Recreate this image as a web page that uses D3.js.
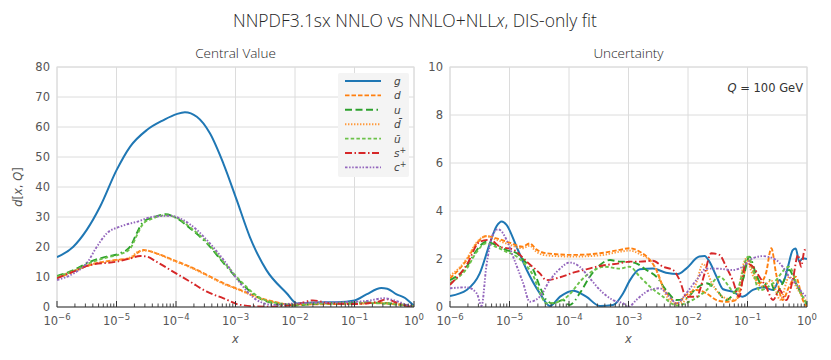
<!DOCTYPE html>
<html><head><meta charset="utf-8">
<script src="https://cdn.jsdelivr.net/npm/d3@7"></script>
<style>
body{margin:0;background:#fff;}
svg text{font-family:"DejaVu Sans",sans-serif;}
</style></head>
<body><svg id="c" width="831" height="360"></svg>
<script>
// ---------- data (x given as log10(x)) ----------
const seriesNames = ["g","d","u","dbar","ubar","splus","cplus"];
const xTickExps = [-6,-5,-4,-3,-2,-1,0];
const cvTicks = [0,10,20,30,40,50,60,70,80];
const unTicks = [0,2,4,6,8,10];

// Central value
const cv_g = [[-6,16.6],[-5.726,20.1],[-5.5,25.7],[-5.277,33.4],[-4.997,45.7],[-4.773,53.4],[-4.49,59],[-4.21,62.3],[-3.99,64.3],[-3.85,64.9],[-3.65,63.4],[-3.43,57.9],[-3.205,47.9],[-2.98,35.7],[-2.76,23.4],[-2.48,12.3],[-2.14,4.6],[-1.97,1.2],[-1.7,1.5],[-1.3,1.6],[-1.0,2.2],[-0.8,4.2],[-0.55,6.3],[-0.45,6.1],[-0.3,4.3],[-0.15,3.0],[-0.05,1.3],[0,0.4]];
const cv_d = [[-6,9.6],[-5.72,11.8],[-5.445,14],[-5.0,15.7],[-4.77,16.2],[-4.66,17.9],[-4.55,19],[-4.33,17.9],[-4.05,15.7],[-3.76,13.4],[-3.48,10.7],[-3.2,7.9],[-2.92,5.7],[-2.64,3.4],[-2.36,1.8],[-2.03,0.7],[-1.7,0.9],[-1.3,1.0],[-1.0,1.2],[-0.6,1.3],[-0.3,0.9],[0,0.1]];
const cv_u = [[-6,10.3],[-5.72,12.3],[-5.445,15.1],[-5.165,16.8],[-4.94,17.9],[-4.77,20.1],[-4.66,24.6],[-4.55,28.4],[-4.38,29.9],[-4.18,30.9],[-3.99,29.6],[-3.76,26.2],[-3.48,21.2],[-3.2,14.6],[-2.92,8.4],[-2.64,3.4],[-2.36,1.2],[-2.0,0.5],[-1.7,1.0],[-1.2,1.4],[-0.8,1.5],[-0.4,1.2],[-0.1,0.5],[0,0.1]];
const cv_dbar = [[-6,10.0],[-5.72,12.0],[-5.445,14.1],[-5.0,15.6],[-4.77,16.5],[-4.62,18.6],[-4.5,18.8],[-4.3,17.6],[-4.05,15.5],[-3.76,13.2],[-3.48,10.5],[-3.2,7.7],[-2.92,5.5],[-2.64,3.2],[-2.36,1.6],[-2.03,0.8],[-1.7,1.1],[-1.3,1.2],[-1.0,1.0],[-0.6,1.4],[-0.3,1.0],[0,0.2]];
const cv_ubar = [[-6,10.1],[-5.72,12.0],[-5.445,14.7],[-5.165,16.5],[-4.94,17.6],[-4.77,19.5],[-4.66,23.8],[-4.55,27.8],[-4.38,29.6],[-4.18,30.6],[-3.99,29.8],[-3.76,26.5],[-3.48,21.6],[-3.2,15.0],[-2.92,8.8],[-2.64,3.7],[-2.36,1.5],[-2.0,0.8],[-1.7,1.2],[-1.2,1.1],[-0.8,1.3],[-0.4,1.0],[-0.1,0.4],[0,0.1]];
const cv_splus = [[-6,9.6],[-5.72,11.8],[-5.445,14],[-5.0,15.1],[-4.77,16.2],[-4.6,17],[-4.49,16.8],[-4.33,15.1],[-4.05,11.8],[-3.76,8.4],[-3.48,5.1],[-3.2,2.9],[-2.92,0.7],[-2.5,0.1],[-2.0,0.8],[-1.7,2.2],[-1.4,1.2],[-1.0,1.0],[-0.6,1.8],[-0.45,2.6],[-0.3,1.5],[-0.1,0.3],[0,0]];
const cv_cplus = [[-6,9.0],[-5.72,11.2],[-5.5,14.6],[-5.33,20.1],[-5.16,24.6],[-4.94,26.8],[-4.66,28.4],[-4.38,30.1],[-4.10,30.4],[-3.88,29],[-3.65,25.7],[-3.43,21.2],[-3.2,15.7],[-2.92,7.9],[-2.64,2.3],[-2.36,0.7],[-2.0,1.2],[-1.7,1.4],[-1.2,1.6],[-0.8,2.0],[-0.5,2.9],[-0.3,2.0],[-0.1,0.6],[0,0.1]];

// Uncertainty
const un_g = [[-6,0.46],[-5.72,0.71],[-5.5,1.4],[-5.33,2.65],[-5.22,3.35],[-5.13,3.56],[-5.05,3.42],[-4.88,2.5],[-4.71,1.54],[-4.49,0.57],[-4.32,0.04],[-4.15,0.43],[-3.93,0.68],[-3.71,0.43],[-3.48,0.04],[-3.26,0.08],[-3.09,0.57],[-2.98,1.1],[-2.81,1.57],[-2.59,1.6],[-2.37,1.43],[-2.17,1.37],[-2.03,1.6],[-1.81,2.1],[-1.72,2.12],[-1.64,1.89],[-1.52,1.26],[-1.41,0.74],[-1.25,0.64],[-1.08,0.43],[-0.91,0.71],[-0.74,0.82],[-0.57,0.71],[-0.46,1.12],[-0.41,0.99],[-0.32,1.68],[-0.24,2.37],[-0.19,2.44],[-0.13,1.89],[-0.07,2.03],[0,2.0]];
const un_d = [[-6,1.2],[-5.72,1.96],[-5.55,2.65],[-5.39,2.96],[-5.22,2.86],[-5.0,2.68],[-4.78,2.51],[-4.66,2.65],[-4.55,2.4],[-4.38,2.24],[-3.93,2.17],[-3.48,2.24],[-3.15,2.38],[-2.98,2.45],[-2.81,2.3],[-2.64,1.96],[-2.53,1.54],[-2.42,0.85],[-2.31,0.43],[-2.19,0.15],[-2.03,0.5],[-1.86,0.71],[-1.69,0.57],[-1.52,0.29],[-1.36,0.22],[-1.19,0.29],[-1.08,1.12],[-0.99,1.96],[-0.91,1.54],[-0.8,0.99],[-0.69,1.4],[-0.6,2.45],[-0.52,1.4],[-0.41,0.29],[-0.3,0.85],[-0.19,1.26],[-0.07,0.29],[0,0.0]];
const un_u = [[-6,1.12],[-5.72,1.68],[-5.55,2.37],[-5.39,2.72],[-5.22,2.58],[-5.05,2.37],[-4.88,2.24],[-4.71,1.82],[-4.6,1.54],[-4.49,0.85],[-4.38,0.29],[-4.27,0.15],[-4.1,0.29],[-3.99,0.08],[-3.82,0.57],[-3.65,1.26],[-3.48,1.75],[-3.31,1.96],[-3.15,1.89],[-3.04,1.89],[-2.87,1.82],[-2.7,1.54],[-2.53,1.26],[-2.37,0.71],[-2.19,0.29],[-2.03,0.36],[-1.86,0.78],[-1.69,0.99],[-1.52,0.71],[-1.36,0.29],[-1.19,0.71],[-1.08,1.12],[-0.97,2.1],[-0.86,1.4],[-0.74,0.85],[-0.63,1.12],[-0.52,0.57],[-0.41,0.99],[-0.3,1.54],[-0.19,0.99],[-0.07,0.43],[0,0.1]];
const un_dbar = [[-6,1.3],[-5.72,2.0],[-5.55,2.7],[-5.39,2.95],[-5.22,2.8],[-5.0,2.6],[-4.78,2.45],[-4.66,2.55],[-4.55,2.3],[-4.38,2.15],[-3.93,2.1],[-3.48,2.15],[-3.15,2.3],[-2.98,2.35],[-2.81,2.2],[-2.59,1.8],[-2.48,1.2],[-2.37,0.5],[-2.2,0.1],[-2.0,0.4],[-1.86,1.0],[-1.75,1.8],[-1.6,1.0],[-1.4,0.4],[-1.2,0.3],[-1.03,2.0],[-0.9,1.26],[-0.75,0.85],[-0.6,1.1],[-0.45,0.3],[-0.3,1.26],[-0.15,0.7],[0,0.2]];
const un_ubar = [[-6,1.0],[-5.72,1.6],[-5.55,2.3],[-5.39,2.65],[-5.22,2.5],[-5.05,2.3],[-4.88,2.1],[-4.71,1.7],[-4.6,1.3],[-4.49,0.6],[-4.38,0.15],[-4.2,0.2],[-4.0,0.5],[-3.8,1.1],[-3.6,1.5],[-3.4,1.68],[-3.15,1.6],[-2.98,1.68],[-2.81,1.26],[-2.64,0.85],[-2.42,0.43],[-2.19,0.06],[-2.0,0.2],[-1.69,0.7],[-1.47,1.26],[-1.2,0.6],[-0.99,2.1],[-0.8,0.7],[-0.57,0.99],[-0.3,1.68],[-0.15,0.8],[0,0.1]];
const un_splus = [[-6,0.92],[-5.72,1.75],[-5.5,2.72],[-5.33,2.8],[-5.16,2.51],[-4.94,2.4],[-4.71,1.89],[-4.49,1.4],[-4.38,1.12],[-4.15,1.24],[-3.93,1.43],[-3.71,1.57],[-3.48,1.71],[-3.15,1.82],[-2.98,1.89],[-2.81,1.89],[-2.59,1.93],[-2.42,1.68],[-2.25,1.54],[-2.14,1.12],[-2.03,0.43],[-1.86,0.43],[-1.72,1.4],[-1.61,2.24],[-1.47,2.17],[-1.36,1.68],[-1.25,1.12],[-1.14,0.43],[-1.03,1.82],[-0.91,1.68],[-0.8,1.26],[-0.69,0.85],[-0.57,0.29],[-0.46,0.71],[-0.35,0.29],[-0.24,1.12],[-0.15,2.17],[-0.1,1.68],[-0.04,2.37],[0,2.4]];
const un_cplus = [[-6,0.78],[-5.72,0.82],[-5.55,0.57],[-5.47,0.04],[-5.39,1.68],[-5.27,3.07],[-5.19,3.24],[-5.05,2.8],[-4.94,2.1],[-4.77,0.99],[-4.66,0.22],[-4.49,0.43],[-4.32,1.12],[-4.15,1.6],[-3.99,1.85],[-3.82,1.68],[-3.65,1.2],[-3.48,0.71],[-3.26,0.29],[-3.09,0.15],[-3.0,0.0],[-2.87,0.29],[-2.64,0.71],[-2.48,0.78],[-2.31,0.43],[-2.19,0.15],[-2.03,0.57],[-1.86,1.12],[-1.69,1.6],[-1.52,1.6],[-1.25,1.54],[-1.08,1.68],[-0.91,2.03],[-0.74,2.12],[-0.52,1.96],[-0.41,1.68],[-0.3,1.26],[-0.19,0.99],[-0.07,0.57],[0,0.4]];

const cvData = [cv_g,cv_d,cv_u,cv_dbar,cv_ubar,cv_splus,cv_cplus];
const unData = [un_g,un_d,un_u,un_dbar,un_ubar,un_splus,un_cplus];

// ---------- styles ----------
const colors = ["#1f77b4","#ff7f0e","#2ca02c","#ff9a3c","#6cc24a","#d62728","#9467bd"];
const dashes = [null,"4.5,2","7,3.5,7,3.5,7,3.5,1.5,3.5","1.4,1.6","3.5,2.2","7,2.5,1.5,2.5","2.5,1.6,1.5,1.6,1.5,1.6"];

const svg = d3.select("#c");
const yTop = 67, yBot = 307;

const title = svg.append("text").attr("x",415).attr("y",27).attr("text-anchor","middle")
  .style("font-family","'Open Sans',sans-serif").style("font-weight",300)
  .style("font-size","17.5px").attr("fill","#262626");
title.append("tspan").text("NNPDF3.1sx NNLO vs NNLO+NLL");
title.append("tspan").style("font-style","italic").text("x");
title.append("tspan").text(", DIS-only fit");

function panel(x0,x1,ymax,yticks,data,ptitle){
  const xs = d3.scaleLog().domain([1e-6,1]).range([x0,x1]);
  const ys = d3.scaleLinear().domain([0,ymax]).range([yBot,yTop]);
  const g = svg.append("g");
  g.selectAll(".vg").data(xTickExps).join("line")
    .attr("x1",d=>xs(Math.pow(10,d))).attr("x2",d=>xs(Math.pow(10,d)))
    .attr("y1",yTop).attr("y2",yBot).attr("stroke","#dcdcdc").attr("stroke-width",1);
  g.selectAll(".hg").data(yticks).join("line")
    .attr("x1",x0).attr("x2",x1).attr("y1",d=>ys(d)).attr("y2",d=>ys(d))
    .attr("stroke","#dcdcdc").attr("stroke-width",1);
  g.append("rect").attr("x",x0).attr("y",yTop).attr("width",x1-x0).attr("height",yBot-yTop)
    .attr("fill","none").attr("stroke","#dcdcdc");
  g.selectAll(".yl").data(yticks).join("text")
    .attr("x",x0-7).attr("y",d=>ys(d)+4).attr("text-anchor","end")
    .style("font-size","11.5px").attr("fill","#555").text(d=>d);
  const clipId = "clip"+x0;
  svg.append("clipPath").attr("id",clipId).append("rect")
    .attr("x",x0).attr("y",yTop-2).attr("width",x1-x0).attr("height",yBot-yTop+2);
  const line = d3.line().x(d=>xs(Math.pow(10,d[0]))).y(d=>ys(Math.max(0,d[1]))).curve(d3.curveMonotoneX);
  const cg = g.append("g").attr("clip-path",`url(#${clipId})`);
  data.forEach((ser,i)=>{
    cg.append("path").attr("d",line(ser)).attr("fill","none")
      .attr("stroke",colors[i]).attr("stroke-width",i===0?2:1.9)
      .attr("stroke-dasharray",dashes[i]);
  });
  const ax = g.append("g").attr("transform",`translate(0,${yBot})`);
  const minor = [];
  for(let e=-6;e<0;e++) for(let m=2;m<=9;m++) minor.push(m*Math.pow(10,e));
  ax.selectAll(".mt").data(minor).join("line")
    .attr("x1",d=>xs(d)).attr("x2",d=>xs(d)).attr("y1",0).attr("y2",-3.5)
    .attr("stroke","#333").attr("stroke-width",0.9);
  ax.selectAll(".Mt").data(xTickExps).join("line")
    .attr("x1",d=>xs(Math.pow(10,d))).attr("x2",d=>xs(Math.pow(10,d))).attr("y1",0).attr("y2",-6)
    .attr("stroke","#333").attr("stroke-width",1);
  ax.append("line").attr("x1",x0).attr("x2",x1).attr("stroke","#333").attr("stroke-width",1.2);
  const tl = ax.selectAll(".xl").data(xTickExps).join("text")
    .attr("x",d=>xs(Math.pow(10,d))).attr("y",18).attr("text-anchor","middle")
    .style("font-size","11.5px").attr("fill","#555");
  tl.append("tspan").text("10");
  tl.append("tspan").attr("dy",-5.5).style("font-size","8.5px").text(d=>d<0?"\u2212"+(-d):String(d));
  g.append("text").attr("x",(x0+x1)/2).attr("y",343).attr("text-anchor","middle")
    .style("font-size","11.5px").style("font-style","italic").attr("fill","#555").text("x");
  g.append("text").attr("x",(x0+x1)/2).attr("y",58).attr("text-anchor","middle")
    .style("font-family","'Open Sans',sans-serif").style("font-weight",300)
    .style("font-size","13.5px").attr("fill","#262626").text(ptitle);
  return {xs,ys,g};
}

const L = panel(57,414,80,cvTicks,cvData,"Central Value");
const R = panel(450,807,10,unTicks,unData,"Uncertainty");

const yl = svg.append("text").attr("transform","translate(22,187) rotate(-90)")
  .attr("text-anchor","middle").style("font-size","11.5px").attr("fill","#555");
yl.append("tspan").style("font-style","italic").text("d");
yl.append("tspan").text("[");
yl.append("tspan").style("font-style","italic").text("x");
yl.append("tspan").text(", ");
yl.append("tspan").style("font-style","italic").text("Q");
yl.append("tspan").text("]");

const lg = svg.append("g");
lg.append("rect").attr("x",338).attr("y",73).attr("width",71).attr("height",104)
  .attr("fill","#f4f4f4").attr("rx",2);
const legLabels = [["g",""],["d",""],["u",""],["d\u0304",""],["u\u0304",""],["s","+"],["c","+"]];
legLabels.forEach((lab,i)=>{
  const y = 81 + i*14.4;
  lg.append("line").attr("x1",345).attr("x2",381).attr("y1",y).attr("y2",y)
    .attr("stroke",colors[i]).attr("stroke-width",i===0?2:1.9).attr("stroke-dasharray",dashes[i]);
  const t = lg.append("text").attr("x",394).attr("y",y+4).style("font-size","10.5px")
    .style("font-style","italic").attr("fill","#444");
  t.append("tspan").text(lab[0]);
  if(lab[1]) t.append("tspan").attr("dy",-4).style("font-size","8px").text(lab[1]);
});

const qa = svg.append("text").attr("x",803).attr("y",92).attr("text-anchor","end")
  .style("font-size","11.5px").attr("fill","#333");
qa.append("tspan").style("font-style","italic").text("Q");
qa.append("tspan").text(" = 100 GeV");
</script></body></html>
